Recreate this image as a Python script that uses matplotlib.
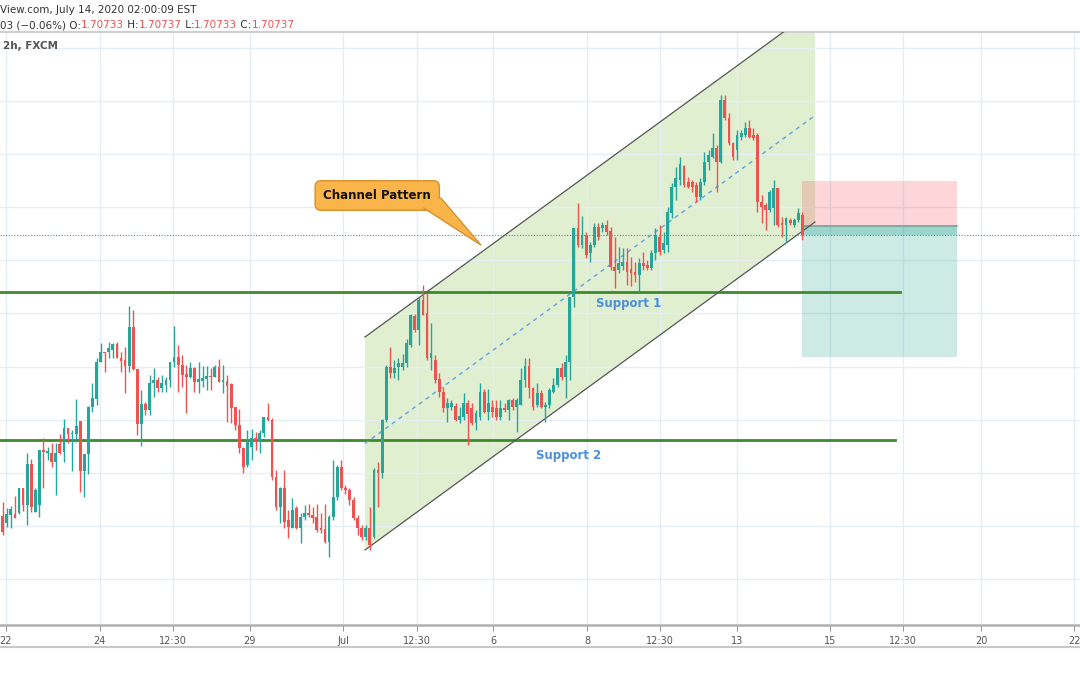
import numpy as np
import matplotlib
matplotlib.use("Agg")
import matplotlib.pyplot as plt
from matplotlib.patches import Polygon, Rectangle
from matplotlib.lines import Line2D

# 2h candles, prices in pips (x 1e-4)
open_pips = [
    16793, 16786, 16794, 16795, 16796, 16821, 16804, 16845, 16797, 16804,
    16859, 16856, 16856, 16847, 16865, 16857, 16881, 16875, 16875, 16888,
    16838, 16855, 16902, 16910, 16947, 16957, 16957, 16959, 16965, 16951,
    16949, 16943, 16982, 16940, 16885, 16905, 16899, 16926, 16929, 16921,
    16924, 16929, 16947, 16952, 16944, 16935, 16932, 16941, 16927, 16928,
    16930, 16933, 16932, 16942, 16927, 16928, 16925, 16902, 16884, 16861,
    16844, 16862, 16871, 16867, 16876, 16892, 16889, 16832, 16802, 16821,
    16789, 16781, 16801, 16781, 16792, 16796, 16794, 16792, 16781, 16780,
    16767, 16792, 16812, 16842, 16821, 16819, 16809, 16791, 16781, 16772,
    16781, 16772, 16839, 16836, 16889, 16942, 16936, 16942, 16942, 16946,
    16964, 16993, 16979, 17009, 16996, 16951, 16949, 16930, 16917, 16901,
    16902, 16903, 16889, 16892, 16906, 16901, 16886, 16892, 16917, 16897,
    16902, 16901, 16892, 16901, 16899, 16909, 16902, 16904, 16929, 16943,
    16921, 16904, 16916, 16902, 16904, 16917, 16924, 16941, 16932, 16947,
    17012, 17081, 17064, 17074, 17056, 17064, 17082, 17081, 17084, 17078,
    17042, 17039, 17043, 17047, 17040, 17037, 17034, 17046, 17044, 17041,
    17056, 17072, 17059, 17064, 17096, 17122, 17129, 17143, 17127, 17127,
    17124, 17112, 17127, 17147, 17152, 17161, 17147, 17209, 17191, 17166,
    17159, 17172, 17174, 17181, 17174, 17174, 17107, 17104, 17099, 17101,
    17121, 17086, 17084, 17089, 17084, 17089, 17094,
]
high_pips = [
    16807, 16801, 16803, 16813, 16821, 16821, 16856, 16850, 16821, 16859,
    16871, 16862, 16866, 16866, 16875, 16890, 16881, 16879, 16910, 16888,
    16855, 16903, 16926, 16951, 16966, 16957, 16967, 16966, 16967, 16957,
    16962, 17003, 16999, 16940, 16919, 16907, 16934, 16941, 16932, 16934,
    16932, 16947, 16983, 16964, 16954, 16944, 16947, 16942, 16947, 16943,
    16943, 16941, 16944, 16950, 16944, 16934, 16926, 16902, 16900, 16862,
    16879, 16880, 16877, 16879, 16892, 16906, 16891, 16839, 16822, 16839,
    16799, 16811, 16803, 16796, 16804, 16805, 16802, 16805, 16796, 16805,
    16794, 16849, 16844, 16849, 16824, 16821, 16812, 16794, 16784, 16784,
    16802, 16841, 16847, 16890, 16944, 16962, 16949, 16951, 16955, 16970,
    16995, 16995, 17012, 17024, 17016, 16986, 16954, 16936, 16922, 16911,
    16909, 16906, 16902, 16916, 16909, 16906, 16899, 16926, 16920, 16920,
    16909, 16909, 16909, 16906, 16910, 16911, 16911, 16941, 16951, 16951,
    16922, 16926, 16919, 16907, 16921, 16931, 16941, 16946, 16954, 17012,
    17081, 17106, 17093, 17077, 17067, 17086, 17086, 17087, 17089, 17082,
    17072, 17062, 17061, 17061, 17052, 17047, 17051, 17057, 17049, 17059,
    17081, 17084, 17077, 17102, 17126, 17142, 17152, 17144, 17132, 17129,
    17127, 17131, 17157, 17159, 17176, 17164, 17214, 17214, 17196, 17167,
    17179, 17179, 17187, 17189, 17181, 17176, 17114, 17106, 17119, 17129,
    17121, 17092, 17092, 17091, 17091, 17101, 17097,
]
low_pips = [
    16774, 16782, 16781, 16791, 16795, 16798, 16784, 16797, 16797, 16792,
    16821, 16849, 16842, 16814, 16855, 16847, 16866, 16838, 16867, 16817,
    16812, 16835, 16897, 16904, 16947, 16937, 16951, 16951, 16951, 16937,
    16916, 16937, 16939, 16874, 16863, 16894, 16894, 16912, 16917, 16917,
    16917, 16922, 16942, 16917, 16922, 16896, 16931, 16917, 16916, 16922,
    16919, 16919, 16932, 16927, 16916, 16887, 16886, 16879, 16856, 16836,
    16842, 16849, 16859, 16856, 16872, 16888, 16829, 16799, 16786, 16781,
    16771, 16781, 16780, 16766, 16789, 16792, 16786, 16777, 16776, 16766,
    16752, 16789, 16809, 16819, 16815, 16804, 16789, 16774, 16769, 16769,
    16759, 16771, 16802, 16831, 16887, 16931, 16931, 16929, 16939, 16942,
    16962, 16977, 16964, 16994, 16949, 16939, 16926, 16912, 16897, 16887,
    16899, 16888, 16886, 16889, 16864, 16884, 16879, 16889, 16896, 16889,
    16892, 16889, 16889, 16897, 16889, 16899, 16877, 16904, 16922, 16911,
    16899, 16902, 16901, 16887, 16901, 16916, 16922, 16929, 16911, 16929,
    17002, 17062, 17061, 17051, 17047, 17062, 17069, 17077, 17074, 17039,
    17021, 17036, 17039, 17024, 17023, 17027, 17017, 17039, 17039, 17039,
    17049, 17054, 17056, 17057, 17091, 17109, 17124, 17122, 17121, 17117,
    17107, 17109, 17124, 17139, 17151, 17117, 17146, 17189, 17164, 17149,
    17149, 17169, 17172, 17171, 17169, 17097, 17086, 17079, 17097, 17084,
    17082, 17072, 17067, 17084, 17082, 17087, 17069,
]
close_pips = [
    16777, 16795, 16800, 16791, 16821, 16804, 16845, 16802, 16819, 16859,
    16857, 16858, 16847, 16856, 16856, 16881, 16875, 16876, 16883, 16838,
    16855, 16902, 16911, 16947, 16957, 16956, 16961, 16965, 16951, 16948,
    16943, 16982, 16940, 16885, 16905, 16899, 16926, 16929, 16921, 16926,
    16929, 16947, 16952, 16944, 16934, 16932, 16941, 16927, 16930, 16931,
    16933, 16932, 16942, 16927, 16929, 16923, 16901, 16884, 16861, 16842,
    16867, 16871, 16867, 16876, 16892, 16889, 16832, 16802, 16821, 16787,
    16782, 16799, 16781, 16792, 16796, 16794, 16791, 16779, 16779, 16767,
    16792, 16812, 16842, 16821, 16819, 16809, 16791, 16781, 16772, 16781,
    16764, 16839, 16836, 16889, 16942, 16936, 16941, 16946, 16946, 16966,
    16994, 16979, 17009, 16994, 16951, 16956, 16929, 16917, 16901, 16906,
    16906, 16889, 16893, 16906, 16895, 16886, 16896, 16917, 16897, 16906,
    16897, 16892, 16901, 16899, 16909, 16902, 16909, 16929, 16943, 16921,
    16902, 16916, 16902, 16904, 16919, 16924, 16941, 16932, 16947, 17012,
    17081, 17064, 17074, 17054, 17064, 17082, 17072, 17084, 17077, 17042,
    17038, 17046, 17047, 17037, 17036, 17034, 17046, 17043, 17041, 17056,
    17074, 17057, 17066, 17097, 17122, 17131, 17145, 17124, 17122, 17122,
    17112, 17127, 17147, 17154, 17161, 17147, 17209, 17191, 17166, 17152,
    17174, 17176, 17181, 17172, 17171, 17107, 17102, 17099, 17117, 17121,
    17084, 17084, 17091, 17086, 17089, 17096, 17074,
]

# x axis labels (bar index where each label sits)
tick_pos = [0.8, 23.8, 41.7, 60.6, 83.4, 101.5, 120.2, 143.2, 161.1, 180.0, 202.8, 220.7, 239.8, 262.6]
tick_labels = ["22", "24", "12:30", "29", "Jul", "12:30", "6", "8", "12:30", "13", "15", "12:30", "20", "22"]
grid_levels = [1.7261, 1.7208, 1.7155, 1.7102, 1.7049, 1.6996, 1.6942, 1.6889, 1.6836, 1.6783, 1.6730]

# drawings
support1, support2 = 1.7017, 1.6869
channel_x = [88.8, 199.1]
channel_low = [1.6759, 1.7087]
channel_high = [1.6972, 1.7300]
entry_price, stop_price, target_price = 1.7083, 1.7128, 1.6952
last_price = 1.7074

o = np.array(open_pips) / 1e4
h = np.array(high_pips) / 1e4
l = np.array(low_pips) / 1e4
c = np.array(close_pips) / 1e4
x = np.arange(len(o))

UP, DOWN = "#26a69a", "#ef5350"

fig = plt.figure(figsize=(10.8, 6.75), dpi=100)
ax = fig.add_axes([0, 50 / 675, 1, (625 - 32) / 675])
ax.set_xlim(-0.66, 264.05)
ax.set_ylim(1.6684, 1.7277)

# grid
ax.set_yticks(grid_levels)
ax.set_xticks(tick_pos)
ax.set_xticklabels(tick_labels, fontsize=7, color="#555555")
ax.grid(True, color="#e6eef5", lw=1)
ax.tick_params(axis="y", left=False, labelleft=False)
ax.tick_params(axis="x", length=4, color="#9a9a9a", pad=4)
for s in ["left", "right"]:
    ax.spines[s].set_visible(False)
ax.spines["top"].set_color("#cfcfcf")
ax.spines["top"].set_linewidth(1.5)
ax.spines["bottom"].set_color("#b0b0b0")
ax.spines["bottom"].set_linewidth(1.8)
fig.add_artist(Line2D([0, 1], [1 - 647 / 675] * 2, transform=fig.transFigure, color="#c8c8c8", lw=1.5))

# channel
ax.fill([channel_x[0], channel_x[1], channel_x[1], channel_x[0]],
        [channel_low[0], channel_low[1], channel_high[1], channel_high[0]],
        color="#8bc34a", alpha=0.25, lw=0, zorder=1)
ax.plot(channel_x, channel_low, color="#555555", lw=0.9, zorder=4)
ax.plot(channel_x, channel_high, color="#555555", lw=0.9, zorder=4)
ax.plot(channel_x, [(a + b) / 2 for a, b in zip(channel_low, channel_high)],
        color="#5aa6e6", lw=1.0, ls=(0, (3, 3)), zorder=4)

# support lines
ax.plot([-0.66, 219.9], [support1, support1], color="#3f8a2c", lw=2, zorder=3)
ax.plot([-0.66, 218.7], [support2, support2], color="#3f8a2c", lw=2, zorder=3)
ax.text(153.3, 1.7006, "Support 1", color="#4a8fe0", fontsize=8.5, fontweight="bold",
        ha="center", va="center", zorder=6)
ax.text(138.6, 1.6854, "Support 2", color="#4a8fe0", fontsize=8.5, fontweight="bold",
        ha="center", va="center", zorder=6)

# short position box
ax.add_patch(Rectangle((195.9, entry_price), 38.0, stop_price - entry_price,
                       fc="#f23645", alpha=0.2, lw=0, zorder=2))
ax.add_patch(Rectangle((195.9, target_price), 38.0, entry_price - target_price,
                       fc="#089981", alpha=0.2, lw=0, zorder=2))
ax.add_patch(Rectangle((195.9, last_price), 38.0, entry_price - last_price,
                       fc="#089981", alpha=0.25, lw=0, zorder=2))
ax.plot([195.9, 233.9], [entry_price, entry_price], color="#7a9e9a", lw=1.2, zorder=3)

# last price line
ax.axhline(last_price, color="#26a69a", lw=0.8, ls=(0, (1, 1.5)), zorder=2)

# candles
colors = np.where(c >= o, UP, DOWN)
ax.vlines(x, l, h, colors=colors, lw=1, zorder=5)
body = np.maximum(np.abs(c - o), 0.00012)
ax.bar(x, body, bottom=np.minimum(o, c), width=0.68, color=colors, lw=0, zorder=5)

# callout
ax.text(91.8, 1.71135, "Channel Pattern", fontsize=8.5, fontweight="bold", color="#111111",
        ha="center", va="center", zorder=6,
        bbox=dict(boxstyle="round,pad=0.7,rounding_size=0.5", fc="#f9b54a", ec="#d98f2b", lw=1))
tail = [(103.2, 1.7101), (107.4, 1.7111), (117.2, 1.7064)]
ax.add_patch(Polygon(tail, closed=True, fc="#f9b54a", ec="none", zorder=7))
ax.plot([tail[0][0], tail[2][0], tail[1][0]], [tail[0][1], tail[2][1], tail[1][1]],
        color="#d98f2b", lw=1, zorder=7)

# header texts
fig.text(0.0, 1 - 10 / 675, "View.com, July 14, 2020 02:00:09 EST", fontsize=7.5,
         color="#333333", va="center", ha="left")
fig.text(0.003, 1 - 46 / 675, "2h, FXCM", fontsize=7.5, color="#555555",
         fontweight="bold", va="center", ha="left")
parts = [("03 (\u22120.06%) O:", "#333333"), ("1.70733", DOWN), (" H:", "#333333"), ("1.70737", DOWN),
         (" L:", "#333333"), ("1.70733", DOWN), (" C:", "#333333"), ("1.70737", DOWN)]
renderer = fig.canvas.get_renderer()
xpos = 0.0
for txt, col in parts:
    t = fig.text(xpos, 1 - 25 / 675, txt, fontsize=7.5, color=col, va="center", ha="left")
    bb = t.get_window_extent(renderer=renderer)
    xpos += bb.width / fig.bbox.width

fig.savefig("out.png", dpi=100)
